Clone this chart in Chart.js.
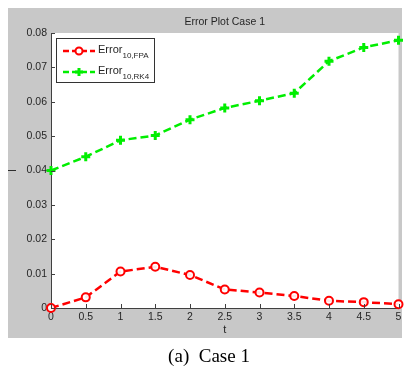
<!DOCTYPE html>
<html>
<head>
<meta charset="utf-8">
<script src="https://cdn.jsdelivr.net/npm/chart.js@4.4.0/dist/chart.umd.min.js"></script>
<style>
  html, body { margin: 0; padding: 0; background: #fff; }
  canvas { display: block; }
</style>
</head>
<body>
<canvas id="errorChart" width="406" height="371"></canvas>
<script>
// time steps and error values for both methods
const tValues = [0, 0.5, 1, 1.5, 2, 2.5, 3, 3.5, 4, 4.5, 5];
const errorFPA = [0.0, 0.0031, 0.0106, 0.0120, 0.0096, 0.0054, 0.0045, 0.0035, 0.0021, 0.0017, 0.0011];
const errorRK4 = [0.0400, 0.0440, 0.0488, 0.0502, 0.0548, 0.0582, 0.0603, 0.0625, 0.0718, 0.0758, 0.0779];
const xTicks = [0, 0.5, 1, 1.5, 2, 2.5, 3, 3.5, 4, 4.5, 5];
const yTicks = [0, 0.01, 0.02, 0.03, 0.04, 0.05, 0.06, 0.07, 0.08];

const seriesNames = [
  { base: 'Error', sub: '10,FPA', color: '#ff0000', style: 'circle' },
  { base: 'Error', sub: '10,RK4', color: '#00ee00', style: 'cross' }
];

const tickFont = { family: 'Liberation Sans, Arial, sans-serif', size: 10.5 };

function toXY(ys) {
  return tValues.map((t, i) => ({ x: t, y: ys[i] }));
}

// figure background, inward ticks, legend, title and caption
const figurePlugin = {
  id: 'figure',
  beforeDraw(chart) {
    const c = chart.ctx;
    const a = chart.chartArea;
    c.save();
    c.fillStyle = '#ffffff';
    c.fillRect(0, 0, chart.width, chart.height);
    c.fillStyle = '#c8c8c8';
    c.fillRect(8, 8, 394, 330);
    c.fillStyle = '#ffffff';
    c.fillRect(a.left, a.top, a.right - a.left, a.bottom - a.top);
    c.restore();
  },
  afterDraw(chart) {
    const c = chart.ctx;
    const a = chart.chartArea;
    const xs = chart.scales.x, ys = chart.scales.y;
    c.save();
    c.strokeStyle = '#404040';
    c.lineWidth = 1;
    c.beginPath();
    xTicks.forEach(v => {
      const px = Math.round(xs.getPixelForValue(v)) + 0.5;
      c.moveTo(px, a.bottom);
      c.lineTo(px, a.bottom - 4);
    });
    yTicks.forEach(v => {
      const py = Math.round(ys.getPixelForValue(v)) + 0.5;
      c.moveTo(a.left, py);
      c.lineTo(a.left + 4, py);
    });
    c.stroke();

    // title
    c.fillStyle = '#262626';
    c.font = '10.5px Liberation Sans, Arial, sans-serif';
    c.textAlign = 'center';
    c.textBaseline = 'middle';
    c.fillText('Error Plot Case 1', (a.left + a.right) / 2, 22);

    // x label
    c.font = '11px Liberation Sans, Arial, sans-serif';
    c.fillText('t', xs.getPixelForValue(2.5), 330);

    // y label
    c.save();
    c.translate(13, (a.top + a.bottom) / 2);
    c.rotate(-Math.PI / 2);
    c.fillText('l', 0, 0);
    c.restore();

    // legend box
    c.fillStyle = '#ffffff';
    c.fillRect(56, 38, 98, 44);
    c.strokeStyle = '#333333';
    c.strokeRect(56.5, 38.5, 98, 44);
    seriesNames.forEach((s, i) => {
      const y = 51 + i * 21;
      c.strokeStyle = s.color;
      c.lineWidth = 2.5;
      c.setLineDash([6, 3]);
      c.beginPath();
      c.moveTo(63, y);
      c.lineTo(95, y);
      c.stroke();
      c.setLineDash([]);
      c.lineWidth = 2;
      c.beginPath();
      if (s.style === 'circle') {
        c.fillStyle = '#ffffff';
        c.arc(79, y, 3.5, 0, Math.PI * 2);
        c.fill();
        c.stroke();
      } else {
        c.lineWidth = 3;
        c.moveTo(75, y); c.lineTo(83, y);
        c.moveTo(79, y - 4); c.lineTo(79, y + 4);
        c.stroke();
      }
      c.fillStyle = '#262626';
      c.textAlign = 'left';
      c.textBaseline = 'alphabetic';
      c.font = '11px Liberation Sans, Arial, sans-serif';
      c.fillText(s.base, 98, y + 2);
      const w = c.measureText(s.base).width;
      c.font = '8px Liberation Sans, Arial, sans-serif';
      c.fillText(s.sub, 98 + w, y + 7);
    });

    // caption
    c.fillStyle = '#000000';
    c.font = '19px Liberation Serif, Times New Roman, serif';
    c.textAlign = 'center';
    c.textBaseline = 'middle';
    c.fillText('(a)  Case 1', 209, 357);
    c.restore();
  }
};

new Chart(document.getElementById('errorChart'), {
  type: 'line',
  data: {
    datasets: [{
      label: 'Error10,FPA',
      data: toXY(errorFPA),
      borderColor: '#ff0000',
      backgroundColor: '#ffffff',
      borderWidth: 2.5,
      borderDash: [8, 4],
      pointStyle: 'circle',
      pointRadius: 4,
      pointBorderWidth: 2,
      pointBorderColor: '#ff0000',
      pointBackgroundColor: 'rgba(255,255,255,0.9)',
      clip: false,
      tension: 0
    }, {
      label: 'Error10,RK4',
      data: toXY(errorRK4),
      borderColor: '#00ee00',
      backgroundColor: '#00ee00',
      borderWidth: 2.5,
      borderDash: [8, 4],
      pointStyle: 'cross',
      pointRadius: 4.5,
      pointBorderWidth: 3,
      pointBorderColor: '#00ee00',
      clip: false,
      tension: 0
    }]
  },
  options: {
    responsive: false,
    animation: false,
    layout: { padding: { top: 33, right: 7, bottom: 33, left: 0 } },
    plugins: {
      legend: { display: false },
      tooltip: { enabled: false }
    },
    scales: {
      x: {
        type: 'linear',
        min: 0,
        max: 5,
        afterBuildTicks: s => { s.ticks = xTicks.map(v => ({ value: v })); },
        afterFit: s => { s.height = 30; },
        grid: { display: false, drawTicks: false },
        border: { display: true, color: '#404040', width: 1 },
        ticks: {
          font: tickFont,
          color: '#262626',
          padding: 3,
          maxRotation: 0,
          callback: v => String(v)
        }
      },
      y: {
        min: 0,
        max: 0.08,
        afterBuildTicks: s => { s.ticks = yTicks.map(v => ({ value: v })); },
        afterFit: s => { s.width = 51; },
        grid: { display: false, drawTicks: false },
        border: { display: true, color: '#404040', width: 1 },
        ticks: {
          font: tickFont,
          color: '#262626',
          padding: 4,
          callback: v => v === 0 ? '0' : v.toFixed(2)
        }
      }
    }
  },
  plugins: [figurePlugin]
});
</script>
</body>
</html>
